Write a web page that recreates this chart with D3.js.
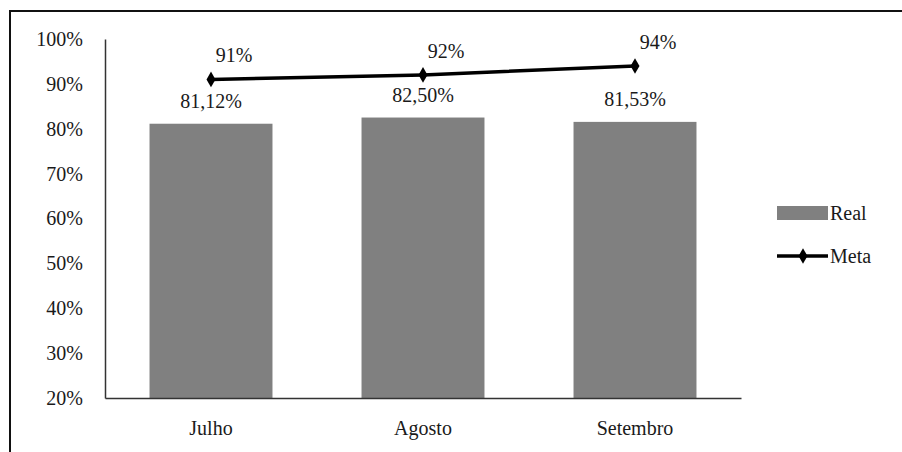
<!DOCTYPE html>
<html>
<head>
<meta charset="utf-8">
<script src="https://cdn.jsdelivr.net/npm/d3@7"></script>
<style>
  body { margin: 0; background: #fff; }
  svg text { font-family: "Liberation Serif", "Times New Roman", serif; fill: #1a1a1a; }
</style>
</head>
<body>
<div id="chart"></div>
<script>
var months = ['Julho', 'Agosto', 'Setembro'];
var real = [81.12, 82.50, 81.53];
var meta = [91, 92, 94];
var realLabels = ['81,12%', '82,50%', '81,53%'];
var yTicks = [20, 30, 40, 50, 60, 70, 80, 90, 100];

var width = 902, height = 452;
var fontSize = '20px';
var svg = d3.select('#chart').append('svg')
    .attr('width', width)
    .attr('height', height);

// outer frame
svg.append('rect')
    .attr('x', 10).attr('y', 11)
    .attr('width', width).attr('height', height)
    .style('fill', 'none')
    .style('stroke', '#111')
    .style('stroke-width', 2);

var x = d3.scaleBand().domain(months).range([105, 741]).paddingInner(0.42).paddingOuter(0.21);
var y = d3.scaleLinear().domain([20, 100]).range([398, 39]);

// bars
svg.selectAll('rect.bar')
    .data(real)
    .enter().append('rect')
    .attr('class', 'bar')
    .attr('x', function(d, i) { return x(months[i]); })
    .attr('y', function(d) { return y(d); })
    .attr('width', x.bandwidth())
    .attr('height', function(d) { return y(20) - y(d); })
    .style('fill', '#808080');

svg.selectAll('text.reallbl')
    .data(real)
    .enter().append('text')
    .attr('class', 'reallbl')
    .attr('x', function(d, i) { return x(months[i]) + x.bandwidth() / 2; })
    .attr('y', function(d) { return y(d) - 16; })
    .attr('text-anchor', 'middle')
    .style('font-size', fontSize)
    .text(function(d, i) { return realLabels[i]; });

// axes
var yAxis = svg.append('g')
    .attr('transform', 'translate(105,0)')
    .call(d3.axisLeft(y).tickValues(yTicks).tickSize(0).tickPadding(22)
        .tickFormat(function(d) { return d + '%'; }));
yAxis.attr('font-family', null);
yAxis.select('.domain').style('stroke', '#333').style('stroke-width', 1.5);
yAxis.selectAll('text').style('font-size', fontSize);

var xAxis = svg.append('g')
    .attr('transform', 'translate(0,398)')
    .call(d3.axisBottom(x).tickSize(0).tickPadding(23));
xAxis.attr('font-family', null);
xAxis.select('.domain').style('stroke', '#333').style('stroke-width', 1.5);
xAxis.selectAll('text').style('font-size', fontSize);

// meta line
var line = d3.line()
    .x(function(d, i) { return x(months[i]) + x.bandwidth() / 2; })
    .y(function(d) { return y(d); });

svg.append('path')
    .datum(meta)
    .attr('d', line)
    .style('fill', 'none')
    .style('stroke', '#000')
    .style('stroke-width', 3.5);

var diamond = d3.symbol().type(d3.symbolDiamond).size(70);
svg.selectAll('path.mk')
    .data(meta)
    .enter().append('path')
    .attr('class', 'mk')
    .attr('d', diamond)
    .attr('transform', function(d, i) {
        return 'translate(' + (x(months[i]) + x.bandwidth() / 2) + ',' + y(d) + ')';
    })
    .style('fill', '#000');

svg.selectAll('text.metalbl')
    .data(meta)
    .enter().append('text')
    .attr('class', 'metalbl')
    .attr('x', function(d, i) { return x(months[i]) + x.bandwidth() / 2 + 23; })
    .attr('y', function(d) { return y(d) - 17; })
    .attr('text-anchor', 'middle')
    .style('font-size', fontSize)
    .text(function(d) { return d + '%'; });

// legend
var lg = svg.append('g').attr('transform', 'translate(777,0)');
lg.append('rect')
    .attr('x', 0).attr('y', 206)
    .attr('width', 51).attr('height', 14)
    .style('fill', '#808080');
lg.append('text')
    .attr('x', 53).attr('y', 220)
    .style('font-size', fontSize)
    .text('Real');
lg.append('line')
    .attr('x1', 0).attr('x2', 51)
    .attr('y1', 256).attr('y2', 256)
    .style('stroke', '#000')
    .style('stroke-width', 3.5);
lg.append('path')
    .attr('d', diamond)
    .attr('transform', 'translate(26,256)')
    .style('fill', '#000');
lg.append('text')
    .attr('x', 53).attr('y', 263)
    .style('font-size', fontSize)
    .text('Meta');
</script>
</body>
</html>
